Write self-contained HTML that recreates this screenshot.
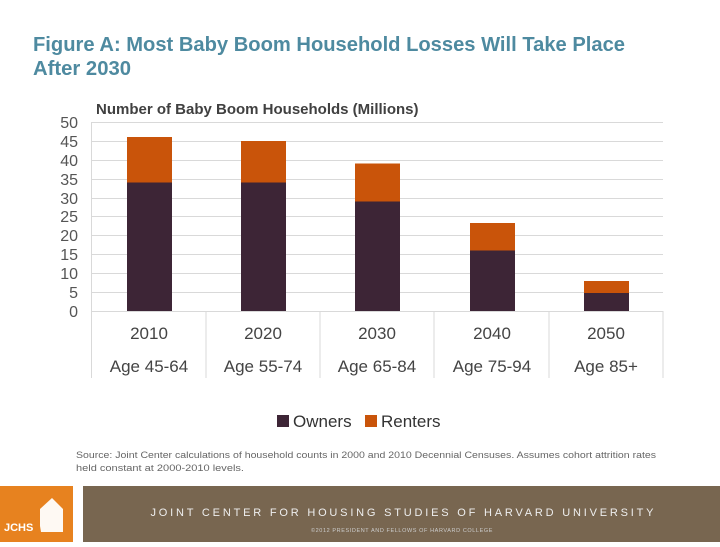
<!DOCTYPE html>
<html><head><meta charset="utf-8"><style>
body{margin:0;width:720px;height:542px;background:#fff;overflow:hidden;font-family:"Liberation Sans",sans-serif;}
</style></head><body>
<svg width="720" height="542" xmlns="http://www.w3.org/2000/svg" font-family="Liberation Sans, sans-serif">
<text x="33" y="51" font-size="20" font-weight="bold" fill="#4e8aa0" textLength="592" lengthAdjust="spacingAndGlyphs">Figure A: Most Baby Boom Household Losses Will Take Place</text>
<text x="33" y="75" font-size="20" font-weight="bold" fill="#4e8aa0" textLength="98" lengthAdjust="spacingAndGlyphs">After 2030</text>
<text x="96" y="114" font-size="15" font-weight="bold" fill="#404040">Number of Baby Boom Households (Millions)</text>
<g stroke="#d9d9d9" stroke-width="1">
<line x1="91" x2="663" y1="122.5" y2="122.5"/><line x1="91" x2="663" y1="141.5" y2="141.5"/><line x1="91" x2="663" y1="160.5" y2="160.5"/><line x1="91" x2="663" y1="179.5" y2="179.5"/><line x1="91" x2="663" y1="198.5" y2="198.5"/><line x1="91" x2="663" y1="216.5" y2="216.5"/><line x1="91" x2="663" y1="235.5" y2="235.5"/><line x1="91" x2="663" y1="254.5" y2="254.5"/><line x1="91" x2="663" y1="273.5" y2="273.5"/><line x1="91" x2="663" y1="292.5" y2="292.5"/><line x1="91" x2="663" y1="311.5" y2="311.5"/>
<line x1="91.5" x2="91.5" y1="122" y2="378"/><line x1="206" x2="206" y1="311" y2="378"/><line x1="320" x2="320" y1="311" y2="378"/><line x1="434" x2="434" y1="311" y2="378"/><line x1="549" x2="549" y1="311" y2="378"/><line x1="663" x2="663" y1="311" y2="378"/>
</g>
<g font-size="16" fill="#555" text-anchor="end">
<text x="78" y="128">50</text><text x="78" y="147">45</text><text x="78" y="166">40</text><text x="78" y="185">35</text><text x="78" y="204">30</text><text x="78" y="222">25</text><text x="78" y="241">20</text><text x="78" y="260">15</text><text x="78" y="279">10</text><text x="78" y="298">5</text><text x="78" y="317">0</text>
</g>
<g>
<rect x="127" y="182.5" width="45" height="128.5" fill="#3d2536"/><rect x="127" y="137" width="45" height="45.5" fill="#c9540a"/>
<rect x="241" y="182.5" width="45" height="128.5" fill="#3d2536"/><rect x="241" y="141" width="45" height="41.5" fill="#c9540a"/>
<rect x="355" y="201.5" width="45" height="109.5" fill="#3d2536"/><rect x="355" y="163.5" width="45" height="38" fill="#c9540a"/>
<rect x="470" y="250.5" width="45" height="60.5" fill="#3d2536"/><rect x="470" y="223" width="45" height="27.5" fill="#c9540a"/>
<rect x="584" y="293" width="45" height="18" fill="#3d2536"/><rect x="584" y="281" width="45" height="12" fill="#c9540a"/>
</g>
<g font-size="17" fill="#444" text-anchor="middle">
<text x="149" y="339">2010</text><text x="263" y="339">2020</text><text x="377" y="339">2030</text><text x="492" y="339">2040</text><text x="606" y="339">2050</text>
<text x="149" y="372">Age 45-64</text><text x="263" y="372">Age 55-74</text><text x="377" y="372">Age 65-84</text><text x="492" y="372">Age 75-94</text><text x="606" y="372">Age 85+</text>
</g>
<rect x="277" y="415" width="12" height="12" fill="#3d2536"/>
<text x="293" y="427" font-size="17" fill="#333">Owners</text>
<rect x="365" y="415" width="12" height="12" fill="#c9540a"/>
<text x="381" y="427" font-size="17" fill="#333">Renters</text>
<text x="76" y="458" font-size="9" fill="#666" textLength="580" lengthAdjust="spacingAndGlyphs">Source: Joint Center calculations of household counts in 2000 and 2010 Decennial Censuses. Assumes cohort attrition rates</text>
<text x="76" y="471" font-size="9" fill="#666" textLength="168" lengthAdjust="spacingAndGlyphs">held constant at 2000-2010 levels.</text>
<rect x="0" y="486" width="73" height="56" fill="#e7821f"/>
<rect x="83" y="486" width="637" height="56" fill="#786650"/>
<path d="M40 526 L40 509 L52 498 L63 509 L63 532 L41 532 Z" fill="#fff" opacity="0.95"/>
<text x="4" y="531" font-size="11" font-weight="bold" fill="#fff">JCHS</text>
<text x="402" y="516" font-size="11" fill="#eee" text-anchor="middle" textLength="503" lengthAdjust="spacing">JOINT CENTER FOR HOUSING STUDIES OF HARVARD UNIVERSITY</text>
<text x="402" y="532" font-size="5.5" fill="#ccc" text-anchor="middle" letter-spacing="0.6">©2012 PRESIDENT AND FELLOWS OF HARVARD COLLEGE</text>
</svg>
</body></html>
